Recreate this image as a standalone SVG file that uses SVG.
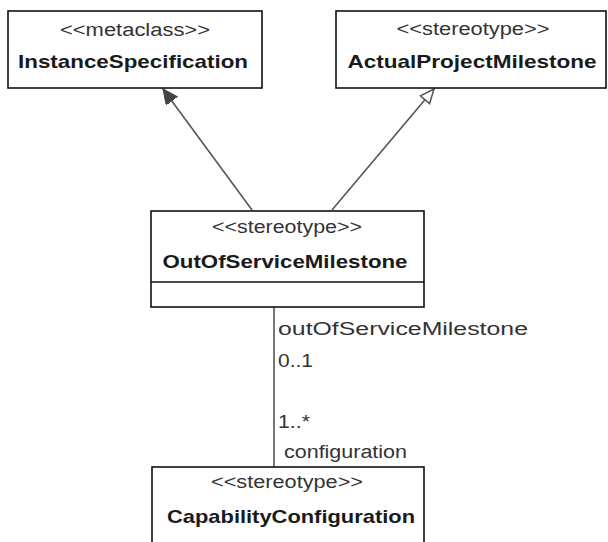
<svg xmlns="http://www.w3.org/2000/svg" width="608" height="542" viewBox="0 0 608 542">
<style>
.box{fill:#fff;stroke:#111;stroke-width:1.6}
.st{font-family:"Liberation Sans",Arial,sans-serif;font-size:18px;fill:#333;text-anchor:middle}
.nm{font-family:"Liberation Sans",Arial,sans-serif;font-size:19px;font-weight:bold;fill:#1a1a1a;text-anchor:middle}
.lbl{font-family:"Liberation Sans",Arial,sans-serif;font-size:18px;fill:#333}
.conn{stroke:#555;stroke-width:1.6;fill:none}
</style>
<defs>
<marker id="filled" markerUnits="userSpaceOnUse" markerWidth="20" markerHeight="20" refX="15" refY="7" orient="auto">
<path d="M0,0 L15,7 L0,14 Z" fill="#444" stroke="#444" stroke-width="1"/>
</marker>
<marker id="hollow" markerUnits="userSpaceOnUse" markerWidth="20" markerHeight="20" refX="15" refY="7" orient="auto">
<path d="M1,1 L15,7 L1,13 Z" fill="#fff" stroke="#555" stroke-width="1.5"/>
</marker>
</defs>
<rect width="608" height="542" fill="#fff"/>
<g id="connectors">
<line class="conn" x1="252" y1="210" x2="163" y2="89" marker-end="url(#filled)"/>
<line class="conn" x1="332" y1="210" x2="434" y2="89" marker-end="url(#hollow)"/>
<line class="conn" x1="274" y1="307" x2="274" y2="467"/>
<text class="lbl" x="278" y="335" textLength="250" lengthAdjust="spacingAndGlyphs">outOfServiceMilestone</text>
<text class="lbl" x="278" y="367" textLength="35" lengthAdjust="spacingAndGlyphs">0..1</text>
<text class="lbl" x="278" y="428" textLength="32" lengthAdjust="spacingAndGlyphs">1..*</text>
<text class="lbl" x="284" y="458" textLength="123" lengthAdjust="spacingAndGlyphs">configuration</text>
</g>
<g id="InstanceSpecification">
<rect class="box" x="8" y="11" width="254" height="77"/>
<text class="st" x="135" y="36" textLength="150" lengthAdjust="spacingAndGlyphs">&lt;&lt;metaclass&gt;&gt;</text>
<text class="nm" x="133" y="68" textLength="230" lengthAdjust="spacingAndGlyphs">InstanceSpecification</text>
</g>
<g id="ActualProjectMilestone">
<rect class="box" x="336" y="11" width="270" height="77"/>
<text class="st" x="473" y="35" textLength="153" lengthAdjust="spacingAndGlyphs">&lt;&lt;stereotype&gt;&gt;</text>
<text class="nm" x="472" y="68" textLength="249" lengthAdjust="spacingAndGlyphs">ActualProjectMilestone</text>
</g>
<g id="OutOfServiceMilestone">
<rect class="box" x="151" y="211" width="273" height="96"/>
<line x1="151" y1="282" x2="424" y2="282" stroke="#111" stroke-width="1.6"/>
<text class="st" x="287" y="233" textLength="150" lengthAdjust="spacingAndGlyphs">&lt;&lt;stereotype&gt;&gt;</text>
<text class="nm" x="285" y="268" textLength="245" lengthAdjust="spacingAndGlyphs">OutOfServiceMilestone</text>
</g>
<g id="CapabilityConfiguration">
<rect class="box" x="152" y="467" width="272" height="90"/>
<text class="st" x="287" y="488" textLength="152" lengthAdjust="spacingAndGlyphs">&lt;&lt;stereotype&gt;&gt;</text>
<text class="nm" x="291" y="523" textLength="248" lengthAdjust="spacingAndGlyphs">CapabilityConfiguration</text>
</g>
</svg>
